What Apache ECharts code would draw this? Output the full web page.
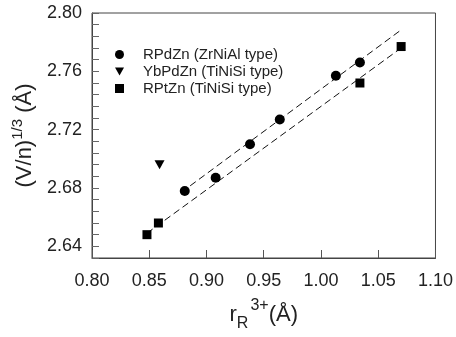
<!DOCTYPE html>
<html><head><meta charset="utf-8">
<script src="https://cdn.jsdelivr.net/npm/echarts@6/dist/echarts.min.js"></script>
<style>html,body{margin:0;padding:0;background:#fff}#c{width:456px;height:337px}</style>
</head><body><div id="c"></div>
<script>
// ---- data ----
const seriesNames = ['RPdZn (ZrNiAl type)', 'YbPdZn (TiNiSi type)', 'RPtZn (TiNiSi type)'];
const rPdZnX = [0.881, 0.908, 0.938, 0.964, 1.013, 1.034];
const rPdZnY = [2.678, 2.687, 2.710, 2.727, 2.757, 2.766];
const ybPdZnX = [0.859];
const ybPdZnY = [2.696];
const rPtZnX = [0.848, 0.858, 1.034, 1.070];
const rPtZnY = [2.648, 2.656, 2.752, 2.777];
const fitPdX = [0.878, 1.071];
const fitPdY = [2.677, 2.789];
const fitPtX = [0.848, 1.070];
const fitPtY = [2.649, 2.776];
const xTicks = [0.80, 0.85, 0.90, 0.95, 1.00, 1.05, 1.10];
const yTicks = [2.64, 2.68, 2.72, 2.76, 2.80];

const FONT = "'Liberation Sans', Arial, Helvetica, sans-serif";
const zip = (xs, ys) => xs.map((x, i) => [x, ys[i]]);
const downTri = 'path://M0,0 L10,0 L5,9 Z';

const chart = echarts.init(document.getElementById('c'), null, {renderer: 'canvas'});
chart.setOption({
  animation: false,
  backgroundColor: '#fff',
  grid: {left: 92, right: 19, top: 13, bottom: 78, show: true, borderColor: '#444', borderWidth: 1},
  legend: {
    data: seriesNames,
    orient: 'vertical', left: 110, top: 42,
    itemWidth: 9, itemHeight: 9, itemGap: 2,
    textStyle: {fontFamily: FONT, fontSize: 15, color: '#222', padding: [0, 0, 0, 14]},
    selectedMode: false
  },
  xAxis: {
    type: 'value', min: xTicks[0], max: xTicks[xTicks.length - 1], interval: 0.05,
    axisLine: {show: true, lineStyle: {color: '#444', width: 1}},
    axisTick: {show: true, inside: true, length: 8, lineStyle: {color: '#555'}},
    axisLabel: {fontFamily: FONT, fontSize: 18, color: '#222', margin: 14, formatter: v => v.toFixed(2)},
    splitLine: {show: false},
    name: '{a|r}{b|R}{c|3+}{a|(Å)}',
    nameLocation: 'middle', nameGap: 40,
    nameTextStyle: {fontFamily: FONT, color: '#222', rich: {
      a: {fontFamily: FONT, fontSize: 22, lineHeight: 34, verticalAlign: 'middle', color: '#222'},
      b: {fontFamily: FONT, fontSize: 16, lineHeight: 18, verticalAlign: 'bottom', color: '#222'},
      c: {fontFamily: FONT, fontSize: 16, lineHeight: 18, verticalAlign: 'top', color: '#222', padding: [0, 0, 0, 2]}
    }}
  },
  yAxis: {
    type: 'value', min: 2.632, max: yTicks[yTicks.length - 1], interval: 0.008,
    axisLine: {show: true, lineStyle: {color: '#444', width: 1}},
    axisTick: {show: true, inside: true, length: 7, lineStyle: {color: '#666'}},
    axisLabel: {fontFamily: FONT, fontSize: 18, color: '#222', margin: 10,
      formatter: v => yTicks.some(t => Math.abs(t - v) < 1e-6) ? v.toFixed(2) : ''},
    splitLine: {show: false},
    name: '{a|(V/n)}{c|1/3}{a| (Å)}',
    nameLocation: 'middle', nameGap: 46,
    nameTextStyle: {fontFamily: FONT, color: '#222', rich: {
      a: {fontFamily: FONT, fontSize: 22, lineHeight: 30, verticalAlign: 'middle', color: '#222'},
      c: {fontFamily: FONT, fontSize: 15, lineHeight: 16, verticalAlign: 'top', color: '#222'}
    }}
  },
  series: [
    {type: 'line', data: zip(fitPdX, fitPdY), showSymbol: false, symbol: 'none', silent: true,
     lineStyle: {color: '#111', width: 1, type: [7, 4]}, z: 1},
    {type: 'line', data: zip(fitPtX, fitPtY), showSymbol: false, symbol: 'none', silent: true,
     lineStyle: {color: '#111', width: 1, type: [7, 4]}, z: 1},
    {name: seriesNames[0], type: 'scatter', data: zip(rPdZnX, rPdZnY), symbol: 'circle', symbolSize: 10,
     itemStyle: {color: '#000', opacity: 1}, z: 3},
    {name: seriesNames[1], type: 'scatter', data: zip(ybPdZnX, ybPdZnY), symbol: downTri, symbolSize: [10, 9],
     itemStyle: {color: '#000', opacity: 1}, z: 3},
    {name: seriesNames[2], type: 'scatter', data: zip(rPtZnX, rPtZnY), symbol: 'rect', symbolSize: 9,
     itemStyle: {color: '#000', opacity: 1}, z: 3}
  ]
});
</script></body></html>
